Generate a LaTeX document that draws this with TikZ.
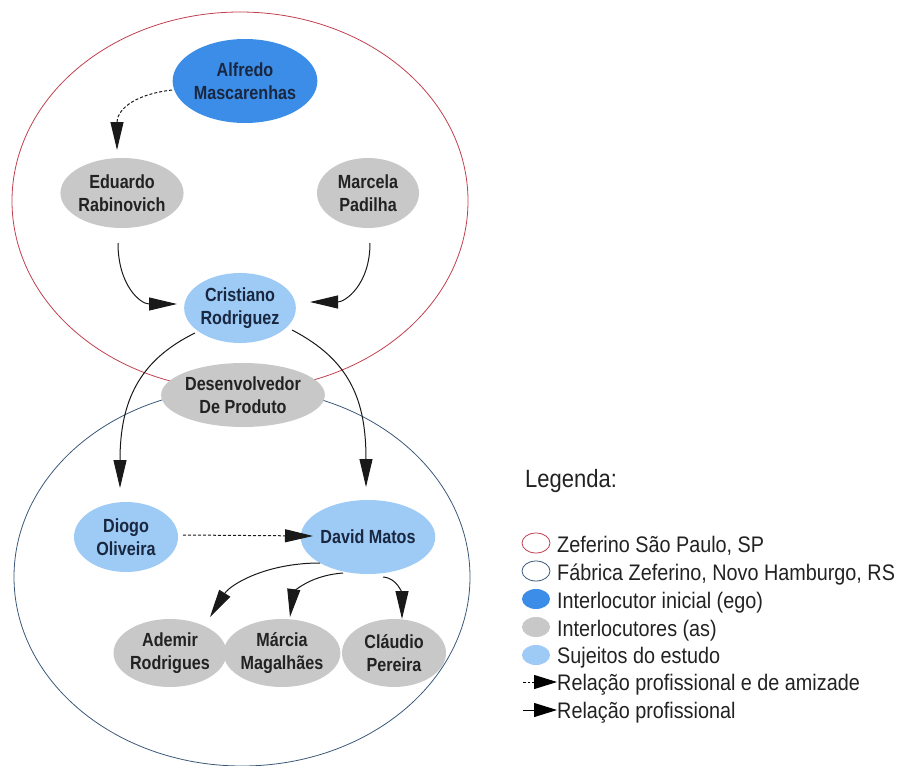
\documentclass[tikz,border=0pt]{standalone}
\usepackage{fontspec}
\setmainfont{Liberation Sans}
\newfontfamily\nodefont[FakeStretch=0.85]{Liberation Sans}
\newfontfamily\legfont[FakeStretch=0.88]{Liberation Sans}
\usetikzlibrary{shapes.geometric,arrows.meta,calc}
\definecolor{egoblue}{HTML}{3B8DE8}
\definecolor{subjblue}{HTML}{9DCBF6}
\definecolor{intgray}{HTML}{C8C8C8}
\definecolor{spred}{HTML}{C0404E}
\definecolor{rsblue}{HTML}{3A5878}
\definecolor{navy}{HTML}{1A2740}
\definecolor{darktxt}{HTML}{222222}
\begin{document}
\begin{tikzpicture}[x=1pt,y=-1pt,
  region/.style={ellipse, draw, line width=0.8pt, inner sep=0pt, minimum width=456pt, minimum height=378pt},
  person/.style={ellipse, inner sep=0pt, align=center, font=\nodefont\bfseries\fontsize{19}{22.5}\selectfont},
  ego/.style={person, fill=egoblue, text=navy},
  subj/.style={person, fill=subjblue, text=navy},
  inter/.style={person, fill=intgray, text=darktxt},
  rel/.style={line width=1pt, draw=black!90, -{Triangle[length=28pt,width=13pt]}},
  relfriend/.style={rel, dash pattern=on 3pt off 2pt},
  legsym/.style={ellipse, inner sep=0pt, minimum width=28pt, minimum height=20pt},
  legtext/.style={anchor=base west, inner sep=0pt, text=darktxt, font=\legfont\fontsize{22.5}{26}\selectfont},
  legarrow/.style={line width=1pt, -{Triangle[length=23pt,width=14pt]}}
]
\useasboundingbox (0,0) rectangle (900,766);

% regions
\node[region, draw=spred] (sp) at (240,201) {};
\node[region, draw=rsblue] (rs) at (242,577) {};

% people
\node[ego, minimum width=116pt, minimum height=84pt] (alfredo) at (245,81) {Alfredo\\Mascarenhas};
\node[inter, minimum width=104pt, minimum height=70pt] (eduardo) at (122,193) {Eduardo\\Rabinovich};
\node[inter, minimum width=102pt, minimum height=70pt] (marcela) at (368,193) {Marcela\\Padilha};
\node[subj, minimum width=100pt, minimum height=70pt] (cristiano) at (240,308) {Cristiano\\Rodriguez};
\node[inter, minimum width=120pt, minimum height=64pt] (desenv) at (243,395) {Desenvolvedor\\De Produto};
\node[subj, minimum width=104pt, minimum height=70pt] (diogo) at (126,537) {Diogo\\Oliveira};
\node[subj, minimum width=106pt, minimum height=74pt] (david) at (368,537) {David Matos};
\node[inter, minimum width=104pt, minimum height=68pt] (ademir) at (170,653) {Ademir\\Rodrigues};
\node[inter, minimum width=104pt, minimum height=68pt] (marcia) at (282,653) {Márcia\\Magalhães};
\node[inter, minimum width=104pt, minimum height=68pt] (claudio) at (394,653) {Cláudio\\Pereira};

% relations
\draw[relfriend] ($(alfredo)+(-73,9)$) .. controls +(-42,5) and +(0,-38) .. ($(eduardo)+(-5,-43)$);
\draw[rel] ($(eduardo)+(-4,50)$) .. controls +(0,42) and +(-37,0) .. ($(cristiano)+(-63,-4)$);
\draw[rel] ($(marcela)+(2,50)$) .. controls +(0,42) and +(35,0) .. ($(cristiano)+(70,-6)$);
\draw[rel] ($(cristiano)+(-45,25)$) .. controls +(-55,27) and +(0,-88) .. ($(diogo)+(-6,-49)$);
\draw[rel] ($(cristiano)+(52,22)$) .. controls +(58,30) and +(0,-87) .. ($(david)+(-2,-50)$);
\draw[relfriend] ($(diogo)+(57,-2)$) -- ($(david)+(-55,-1)$);
\draw[rel] ($(david)+(-48,26)$) .. controls +(-55,0) and +(20,-32) .. ($(ademir)+(40,-36)$);
\draw[rel] ($(david)+(-25,36)$) .. controls +(-38,3) and +(3,-22) .. ($(marcia)+(8,-36)$);
\draw[rel] ($(david)+(15,40)$) .. controls +(15,1) and +(0,-24) .. ($(claudio)+(8,-34)$);

% legend
\node[anchor=base west, inner sep=0pt, text=darktxt, font=\legfont\fontsize{25}{28}\selectfont] (legtitle) at (525,487) {Legenda:};
\node[legsym, draw=spred, line width=0.8pt] (lsA) at (536,543) {};
\node[legsym, draw=rsblue, line width=0.8pt] (lsB) at (536,571) {};
\node[legsym, fill=egoblue] (lsC) at (536,599) {};
\node[legsym, fill=intgray] (lsD) at (536,627) {};
\node[legsym, fill=subjblue] (lsE) at (536,655) {};
\coordinate (laFs) at (523,682);
\coordinate (laFe) at (557,682);
\coordinate (laPs) at (523,710);
\coordinate (laPe) at (557,710);
\draw[legarrow, dash pattern=on 2.5pt off 2pt] (laFs) -- (laFe);
\draw[legarrow] (laPs) -- (laPe);
\node[legtext] (ltA) at (557,552) {Zeferino São Paulo, SP};
\node[legtext] (ltB) at (557,580) {Fábrica Zeferino, Novo Hamburgo, RS};
\node[legtext] (ltC) at (557,608) {Interlocutor inicial (ego)};
\node[legtext] (ltD) at (557,636) {Interlocutores (as)};
\node[legtext] (ltE) at (557,663) {Sujeitos do estudo};
\node[legtext] (ltF) at (557,690) {Relação profissional e de amizade};
\node[legtext] (ltG) at (557,718) {Relação profissional};
\end{tikzpicture}
\end{document}
